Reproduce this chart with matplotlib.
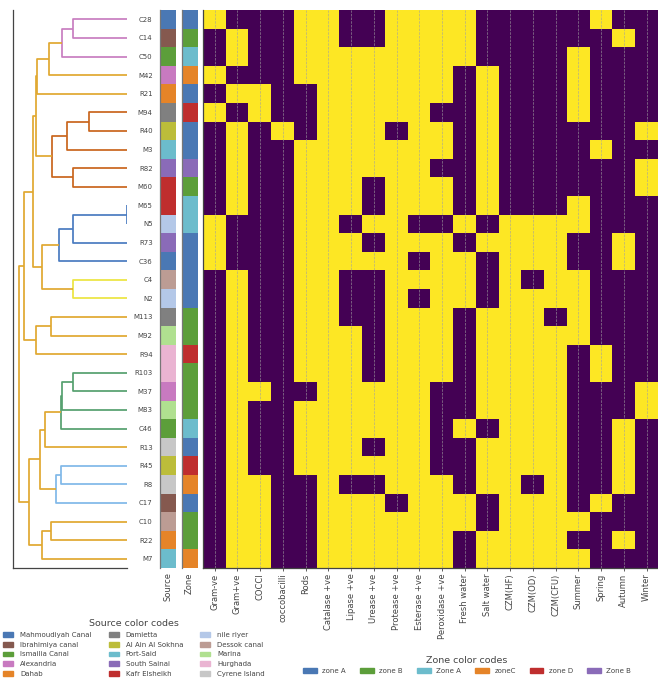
import numpy as np
import matplotlib
matplotlib.use("Agg")
import matplotlib.pyplot as plt
from matplotlib.patches import Patch
from matplotlib.colors import to_rgb

# row order (as clustered)
isolates = ["C28", "C14", "C50", "M42", "R21", "M94", "R40", "M3", "R82", "M60",
            "M65", "N5", "R73", "C36", "C4", "N2", "M113", "M92", "R94", "R103",
            "M37", "M83", "C46", "R13", "R45", "R8", "C17", "C10", "R22", "M7"]

traits = ["Gram-ve", "Gram+ve", "COCCI", "coccobacilli", "Rods", "Catalase +ve",
          "Lipase +ve", "Urease +ve", "Protease +ve", "Esterase +ve", "Peroxidase +ve",
          "Fresh water", "Salt water", "CZM(HF)", "CZM(OD)", "CZM(CFU)",
          "Summer", "Spring", "Autumn", "Winter"]

# 1 = present (yellow), 0 = absent (purple)
traits_matrix = [
    [1,0,0,0,1,1,0,0,1,1, 1,1,0,0,0,0,0,1,0,0],
    [0,1,0,0,1,1,0,0,1,1, 1,1,0,0,0,0,0,0,1,0],
    [0,1,0,0,1,1,1,1,1,1, 1,1,0,0,0,0,1,0,0,0],
    [1,0,0,0,1,1,1,1,1,1, 1,0,1,0,0,0,1,0,0,0],
    [0,1,1,0,0,1,1,1,1,1, 1,0,1,0,0,0,1,0,0,0],
    [1,0,1,0,0,1,1,1,1,1, 0,0,1,0,0,0,1,0,0,0],
    [0,1,0,1,0,1,1,1,0,1, 1,0,1,0,0,0,0,0,0,1],
    [0,1,0,0,1,1,1,1,1,1, 1,0,1,0,0,0,0,1,0,0],
    [0,1,0,0,1,1,1,1,1,1, 0,0,1,0,0,0,0,0,0,1],
    [0,1,0,0,1,1,1,0,1,1, 1,0,1,0,0,0,0,0,0,1],
    [0,1,0,0,1,1,1,0,1,1, 1,0,1,0,0,0,1,0,0,0],
    [1,0,0,0,1,1,0,1,1,0, 0,1,0,1,1,1,1,0,0,0],
    [1,0,0,0,1,1,1,0,1,1, 1,0,1,1,1,1,0,0,1,0],
    [1,0,0,0,1,1,1,1,1,0, 1,1,0,1,1,1,0,0,1,0],
    [0,1,0,0,1,1,0,0,1,1, 1,1,0,1,0,1,1,0,0,0],
    [0,1,0,0,1,1,0,0,1,0, 1,1,0,1,1,1,1,0,0,0],
    [0,1,0,0,1,1,0,0,1,1, 1,0,1,1,1,0,1,0,0,0],
    [0,1,0,0,1,1,1,0,1,1, 1,0,1,1,1,1,1,0,0,0],
    [0,1,0,0,1,1,1,0,1,1, 1,0,1,1,1,1,0,1,0,0],
    [0,1,0,0,1,1,1,0,1,1, 1,0,1,1,1,1,0,1,0,0],
    [0,1,1,0,0,1,1,1,1,1, 0,0,1,1,1,1,0,0,0,1],
    [0,1,0,0,1,1,1,1,1,1, 0,0,1,1,1,1,0,0,0,1],
    [0,1,0,0,1,1,1,1,1,1, 0,1,0,1,1,1,0,0,1,0],
    [0,1,0,0,1,1,1,0,1,1, 0,0,1,1,1,1,0,0,1,0],
    [0,1,0,0,1,1,1,1,1,1, 0,0,1,1,1,1,0,0,1,0],
    [0,1,1,0,0,1,0,0,1,1, 1,0,1,1,0,1,0,0,1,0],
    [0,1,1,0,0,1,1,1,0,1, 1,1,0,1,1,1,0,1,0,0],
    [0,1,1,0,0,1,1,1,1,1, 1,1,0,1,1,1,1,0,0,0],
    [0,1,1,0,0,1,1,1,1,1, 1,0,1,1,1,1,0,0,1,0],
    [0,1,1,0,0,1,1,1,1,1, 1,0,1,1,1,1,1,0,0,0],
]

sources = ["Mahmoudiyah Canal", "Ibrahimiya canal", "Ismailia Canal", "Alexandria",
           "Dahab", "Damietta", "Al Ain Al Sokhna", "Port-Said", "South Sainai",
           "Kafr Elsheikh", "nile riyer", "Dessok canal", "Marina", "Hurghada",
           "Cyrene Island"]
source_colors = ["#4a78b4", "#85594f", "#5c9e3a", "#c87ac0", "#e58428",
                 "#808080", "#bcbd3a", "#6cbccc", "#8a6bb8", "#bf2e2e",
                 "#b4c8e8", "#bc9c94", "#b0e090", "#eab4d2", "#c7c7c7"]
isolate_source = ["Mahmoudiyah Canal", "Ibrahimiya canal", "Ismailia Canal", "Alexandria",
                  "Dahab", "Damietta", "Al Ain Al Sokhna", "Port-Said", "South Sainai",
                  "Kafr Elsheikh", "Kafr Elsheikh", "nile riyer", "South Sainai",
                  "Mahmoudiyah Canal", "Dessok canal", "nile riyer", "Damietta", "Marina",
                  "Hurghada", "Hurghada", "Alexandria", "Marina", "Ismailia Canal",
                  "Cyrene Island", "Al Ain Al Sokhna", "Cyrene Island", "Ibrahimiya canal",
                  "Dessok canal", "Dahab", "Port-Said"]

zones = ["zone A", "zone B", "Zone A", "zoneC", "zone D", "Zone B"]
zone_colors = ["#4a78b4", "#5c9e3a", "#6cbccc", "#e58428", "#bf2e2e", "#8a6bb8"]
isolate_zone = ["zone A", "zone B", "Zone A", "zoneC", "zone A", "zone D", "zone A",
                "zone A", "Zone B", "zone B", "Zone A", "Zone A", "zone A", "zone A",
                "zone A", "zone A", "zone B", "zone B", "zone D", "zone B", "zone B",
                "zone B", "Zone A", "zone A", "zone D", "zoneC", "zone A", "zone B",
                "zone B", "zoneC"]

# dendrogram merges: (child a, child b, height); ints refer to earlier merges
merges = [
    ("C28", "C14", 0.496), (0, "C50", 0.600), (1, "M42", 0.723), (2, "R21", 0.828),
    ("M94", "R40", 0.354), (4, "M3", 0.551), ("R82", "M60", 0.496), (5, 6, 0.693),
    (3, 7, 0.843), ("M65", "N5", 0.003), (9, "R73", 0.496), (10, "C36", 0.631),
    ("C4", "N2", 0.496), (11, 12, 0.782), (8, 13, 0.865), ("M113", "M92", 0.702),
    (15, "R94", 0.843), (14, 16, 0.948), ("R103", "M37", 0.496), (18, "M83", 0.600),
    (19, "C46", 0.612), (20, "R13", 0.760), ("R45", "R8", 0.606), (22, "C17", 0.656),
    (21, 23, 0.806), ("C10", "R22", 0.702), (25, "M7", 0.782), (24, 26, 0.902),
    (17, 27, 1.0),
]
threshold = 0.7
cluster_palette = ["#c87dc0", "#c9651d", "#4a7bc0", "#ece540", "#55a06e", "#80b8e8"]
above_color = "#e0a830"

W, H = 658, 680
fig = plt.figure(figsize=(W / 100, H / 100), dpi=100)

def px_axes(x0, x1, y0, y1):
    return fig.add_axes([x0 / W, 1 - y1 / H, (x1 - x0) / W, (y1 - y0) / H])

top, bot = 10, 568
n = len(isolates)
ax_d = px_axes(13.3, 127, top, bot)
ax_s = px_axes(160.3, 175.7, top, bot)
ax_z = px_axes(181.7, 197, top, bot)
ax_h = px_axes(203.3, 658, top, bot)

spine_c = "#444444"
label_c = "#444444"

# ---- dendrogram ----
pos = {name: (0.0, i + 0.5) for i, name in enumerate(isolates)}
node_pos = []
for a, b, h in merges:
    pa = node_pos[a] if isinstance(a, int) else pos[a]
    pb = node_pos[b] if isinstance(b, int) else pos[b]
    node_pos.append((h, (pa[1] + pb[1]) / 2))

# colour of each merge: clusters formed below the threshold
parent = {}
for i, (a, b, h) in enumerate(merges):
    for c in (a, b):
        if isinstance(c, int):
            parent[c] = i
colors = [None] * len(merges)
for i in range(len(merges) - 1, -1, -1):
    h = merges[i][2]
    if h >= threshold:
        colors[i] = above_color
    elif merges[parent[i]][2] >= threshold:
        colors[i] = "cluster"
roots = sorted([i for i in range(len(merges)) if colors[i] == "cluster"],
               key=lambda i: node_pos[i][1])
for j, r in enumerate(roots):
    colors[r] = cluster_palette[j]
for i in range(len(merges) - 1, -1, -1):
    if colors[i] is None:
        colors[i] = colors[parent[i]]

for i, (a, b, h) in enumerate(merges):
    pa = node_pos[a] if isinstance(a, int) else pos[a]
    pb = node_pos[b] if isinstance(b, int) else pos[b]
    ax_d.plot([pa[0], h, h, pb[0]], [pa[1], pa[1], pb[1], pb[1]],
              color=colors[i], lw=1.25, solid_capstyle="butt")

ax_d.set_xlim(1.05, 0)
ax_d.set_ylim(n, 0)
ax_d.set_xticks([])
ax_d.set_yticks([])
for s in ["top", "right"]:
    ax_d.spines[s].set_visible(False)
for s in ["left", "bottom"]:
    ax_d.spines[s].set_color(spine_c)
    ax_d.spines[s].set_linewidth(0.9)

# ---- colour columns ----
src_lookup = dict(zip(sources, source_colors))
zone_lookup = dict(zip(zones, zone_colors))
src_img = np.array([[to_rgb(src_lookup[s])] for s in isolate_source])
zone_img = np.array([[to_rgb(zone_lookup[z])] for z in isolate_zone])

for ax, img, lab in [(ax_s, src_img, "Source"), (ax_z, zone_img, "Zone")]:
    ax.imshow(img, aspect="auto", interpolation="nearest", extent=(0, 1, n, 0))
    ax.set_xlim(0, 1)
    ax.set_ylim(n, 0)
    ax.set_xticks([0.5])
    ax.set_xticklabels([lab], rotation=90, fontsize=6, color=label_c)
    ax.tick_params(axis="x", length=0, pad=3)
    ax.set_yticks([])
    for s in ["top", "right", "bottom"]:
        ax.spines[s].set_visible(False)
    ax.spines["left"].set_color("#777777")
    ax.spines["left"].set_linewidth(0.9)

ax_s.set_yticks(np.arange(n) + 0.5)
ax_s.set_yticklabels(isolates, fontsize=5, color=label_c)
ax_s.tick_params(axis="y", length=0, pad=5.5)

# ---- trait heatmap ----
mat = np.array(traits_matrix)
ax_h.imshow(mat, cmap="viridis", aspect="auto", interpolation="nearest",
            extent=(0, len(traits), n, 0), vmin=0, vmax=1)
ax_h.set_xlim(0, len(traits))
ax_h.set_ylim(n, 0)
ax_h.set_xticks(np.arange(len(traits)) + 0.5)
ax_h.set_xticklabels(traits, rotation=90, fontsize=6, color=label_c)
ax_h.tick_params(axis="x", length=2, width=0.6, color=spine_c, pad=2)
ax_h.set_yticks([])
ax_h.set_axisbelow(False)
ax_h.grid(axis="x", linestyle="--", color="#a0a0a0", linewidth=0.5, alpha=0.8)
for s in ["top", "right"]:
    ax_h.spines[s].set_visible(False)
for s in ["left", "bottom"]:
    ax_h.spines[s].set_color(spine_c)
    ax_h.spines[s].set_linewidth(0.9)

# ---- legends ----
src_handles = [Patch(color=c, label=s) for s, c in zip(sources, source_colors)]
leg1 = fig.legend(handles=src_handles, ncol=3, loc="center",
                  bbox_to_anchor=(134 / W, 1 - 648 / H), frameon=False,
                  fontsize=5, title="Source color codes", title_fontsize=6.8,
                  labelspacing=0.55, columnspacing=2.4, handlelength=1.5,
                  handletextpad=1.0, borderpad=0.2)
for t in leg1.get_texts():
    t.set_color(label_c)
leg1.get_title().set_color(label_c)

zone_handles = [Patch(color=c, label=z) for z, c in zip(zones, zone_colors)]
leg2 = fig.legend(handles=zone_handles, ncol=6, loc="center",
                  bbox_to_anchor=(467 / W, 1 - 665 / H), frameon=False,
                  fontsize=5, title="Zone color codes", title_fontsize=6.8,
                  columnspacing=2.0, handlelength=2.0, handletextpad=0.8,
                  borderpad=0.2)
for t in leg2.get_texts():
    t.set_color(label_c)
leg2.get_title().set_color(label_c)

fig.savefig("out.png", dpi=100)
